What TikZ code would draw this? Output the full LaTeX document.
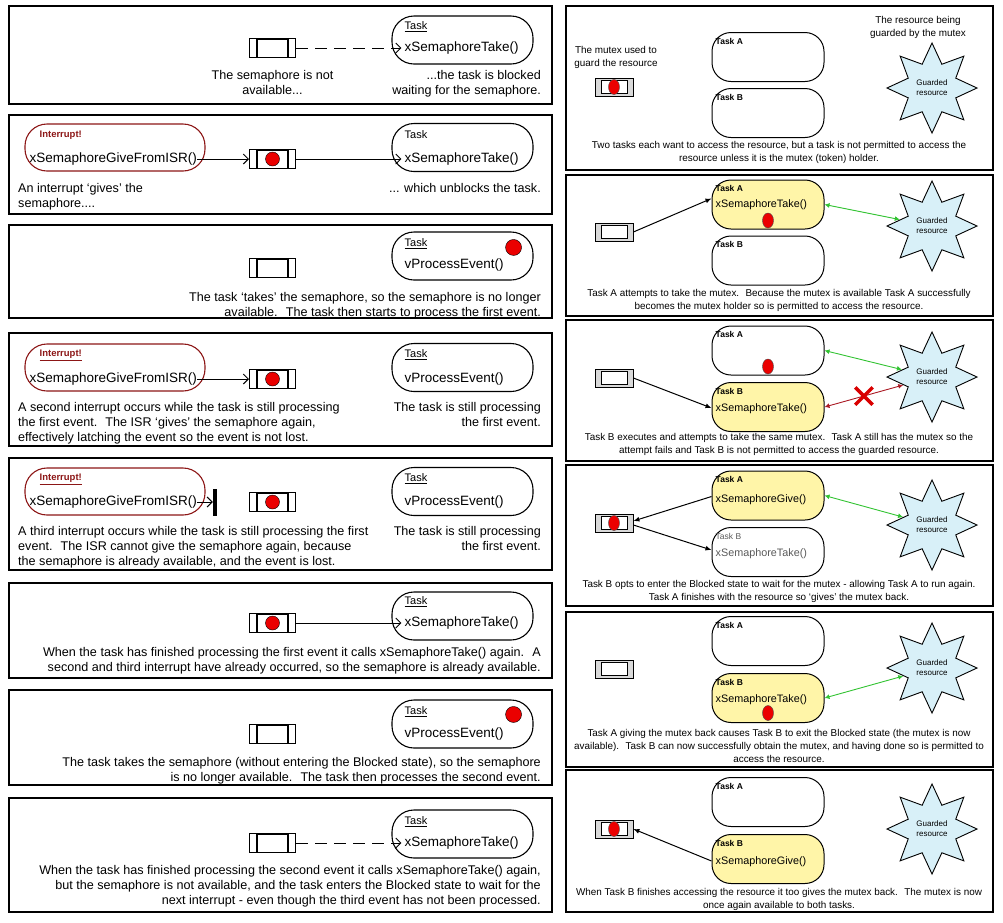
\documentclass[tikz,border=0pt]{standalone}
\usepackage{fontspec}
\setmainfont{Liberation Sans}
\usetikzlibrary{arrows.meta, positioning, calc, shapes.geometric, shapes.misc}

\definecolor{isrred}{RGB}{140, 22, 22}
\definecolor{runyellow}{RGB}{255, 245, 168}
\definecolor{resblue}{RGB}{216, 240, 248}
\definecolor{okgreen}{RGB}{50, 195, 50}
\definecolor{nogored}{RGB}{170, 25, 35}
\definecolor{tokenred}{RGB}{235, 0, 0}

\tikzset{
  panel/.style={draw, line width=1.3pt},
  % left column: binary semaphore
  taskbox/.style={draw, line width=1.1pt, rounded corners=22pt, minimum width=141pt, minimum height=48pt},
  isrbox/.style={taskbox, draw=isrred, minimum width=180pt, minimum height=47pt},
  lbl/.style={font=\fontsize{12.6}{15}\selectfont, inner sep=0pt},
  callf/.style={font=\fontsize{13.5}{15}\selectfont, inner sep=0pt, anchor=west},
  tasktitle/.style={font=\fontsize{11}{13}\selectfont, inner sep=0pt, anchor=west},
  isrtitle/.style={font=\fontsize{9.5}{11}\selectfont\bfseries, text=isrred, inner sep=0pt, anchor=west},
  sem/.style={draw, line width=1pt, fill=white, minimum width=46pt, minimum height=19pt, inner sep=0pt,
    path picture={\draw[line width=2pt] ([xshift=7pt]path picture bounding box.south west) rectangle ([xshift=-8pt]path picture bounding box.north east);}},
  semdot/.style={circle, draw=black, fill=tokenred, minimum size=14pt, inner sep=0pt},
  lostbar/.style={fill=black, minimum width=4pt, minimum height=27pt, inner sep=0pt},
  giveline/.style={-{Straight Barb[length=5pt, width=10pt]}, line width=1pt},
  waitline/.style={giveline, dash pattern=on 12pt off 7pt},
  % right column: mutex
  mtask/.style={draw, line width=1pt, rounded corners=19pt, minimum width=112pt, minimum height=49pt},
  mtaskrun/.style={mtask, fill=runyellow},
  mtasktitle/.style={font=\fontsize{8.5}{10}\selectfont\bfseries, inner sep=0pt, anchor=north west},
  mcall/.style={font=\fontsize{10.8}{12}\selectfont, inner sep=0pt, anchor=west},
  mtxtext/.style={font=\fontsize{9.9}{13.5}\selectfont, inner sep=0pt, align=center, anchor=north},
  mutex/.style={draw, line width=0.8pt, fill=gray!30, minimum width=38pt, minimum height=18pt, inner sep=0pt,
    path picture={\draw[fill=white, line width=0.9pt] ([xshift=6pt,yshift=2.5pt]path picture bounding box.south west) rectangle ([xshift=-6pt,yshift=-2.5pt]path picture bounding box.north east);}},
  mdot/.style={ellipse, draw=black!70, fill=tokenred, minimum width=11pt, minimum height=15pt, inner sep=0pt},
  resource/.style={star, star points=8, star point ratio=1.75, minimum size=90pt, draw, line width=0.9pt, fill=resblue,
    font=\fontsize{8}{10}\selectfont, align=center, inner sep=0pt},
  access/.style={{Latex[length=5pt, width=5pt]}-{Latex[length=5pt, width=5pt]}, draw=okgreen, line width=0.9pt},
  denied/.style={access, draw=nogored},
  xmark/.style={cross out, draw=red!85!black, line width=3.4pt, minimum size=14pt, inner sep=0pt},
  takeline/.style={-{Latex[length=6pt, width=5pt]}, line width=1pt},
}

\begin{document}
\begin{tikzpicture}[x=1pt, y=-1pt]
  \useasboundingbox (0,0) rectangle (1003,922);

  % ---------------- left column ----------------
  \draw[panel] (9,6) rectangle (552,104);
  \draw[panel] (9,115) rectangle (552,214);
  \draw[panel] (9,225) rectangle (552,318);
  \draw[panel] (9,333) rectangle (552,446);
  \draw[panel] (9,458) rectangle (552,570);
  \draw[panel] (9,583) rectangle (552,678);
  \draw[panel] (9,690) rectangle (552,785);
  \draw[panel] (9,798) rectangle (552,912);

  % semaphore not available, task blocked
  \node[taskbox] (t1) at (462.5, 40) {};
  \node[tasktitle] (t1h) at ([xshift=13pt, yshift=-11pt]t1.north west) {\underline{Task}};
  \node[callf] (t1f) at ([xshift=13pt, yshift=-8pt]t1.west) {xSemaphoreTake()};
  \node[sem] (s1) at (272.5, 48) {};
  \draw[waitline] (s1.east) -- ([xshift=-3pt]t1f.west);
  \node[lbl, align=center, anchor=north] (n1a) at (272.5, 70) {The semaphore is not\\available...};
  \node[lbl, align=right, anchor=north east] (n1b) at (541, 70) {...the task is blocked\\waiting for the semaphore.};

  % interrupt gives the semaphore
  \node[isrbox] (i2) at (115, 147.5) {};
  \node[isrtitle] (i2h) at ([xshift=15pt, yshift=-12pt]i2.north west) {Interrupt!};
  \node[callf] (i2f) at ([xshift=5pt, yshift=-11.5pt]i2.west) {xSemaphoreGiveFromISR()};
  \node[sem] (s2) at (272.5, 159) {};
  \node[semdot] (d2) at (s2) {};
  \node[taskbox] (t2) at (462.5, 147.5) {};
  \node[tasktitle] (t2h) at ([xshift=13pt, yshift=-12pt]t2.north west) {Task};
  \node[callf] (t2f) at ([xshift=13pt, yshift=-11.5pt]t2.west) {xSemaphoreTake()};
  \draw[giveline] (i2f.east) -- (s2.west);
  \draw[giveline] (s2.east) -- ([xshift=-3pt]t2f.west);
  \node[lbl, align=left, anchor=north west] (n2a) at (18, 183) {An interrupt ‘gives’ the\\semaphore....};
  \node[lbl, align=right, anchor=north east] (n2b) at (541, 183) {... which unblocks the task.};

  % task takes the semaphore
  \node[taskbox] (t3) at (462.5, 256) {};
  \node[tasktitle] (t3h) at ([xshift=13pt, yshift=-12pt]t3.north west) {\underline{Task}};
  \node[callf] (t3f) at ([xshift=13pt, yshift=-9pt]t3.west) {vProcessEvent()};
  \node[semdot, minimum size=16pt] (d3) at ([xshift=-20pt, yshift=-16pt]t3.north east) {};
  \node[sem] (s3) at (272.5, 268) {};
  \node[lbl, align=right, anchor=north east] (n3) at (541, 292) {The task ‘takes’ the semaphore, so the semaphore is no longer\\available.~ The task then starts to process the first event.};

  % second interrupt latched
  \node[isrbox] (i4) at (115, 367.5) {};
  \node[isrtitle] (i4h) at ([xshift=15pt, yshift=-12pt]i4.north west) {\underline{Interrupt!}};
  \node[callf] (i4f) at ([xshift=5pt, yshift=-11.5pt]i4.west) {xSemaphoreGiveFromISR()};
  \node[sem] (s4) at (272.5, 379) {};
  \node[semdot] (d4) at (s4) {};
  \node[taskbox] (t4) at (462.5, 367.5) {};
  \node[tasktitle] (t4h) at ([xshift=13pt, yshift=-12pt]t4.north west) {\underline{Task}};
  \node[callf] (t4f) at ([xshift=13pt, yshift=-11.5pt]t4.west) {vProcessEvent()};
  \draw[giveline] (i4f.east) -- (s4.west);
  \node[lbl, align=left, anchor=north west] (n4a) at (18, 402) {A second interrupt occurs while the task is still processing\\the first event.~ The ISR ‘gives’ the semaphore again,\\effectively latching the event so the event is not lost.};
  \node[lbl, align=right, anchor=north east] (n4b) at (541, 402) {The task is still processing\\the first event.};

  % third interrupt lost
  \node[isrbox] (i5) at (115, 491.5) {};
  \node[isrtitle] (i5h) at ([xshift=15pt, yshift=-12pt]i5.north west) {\underline{Interrupt!}};
  \node[callf] (i5f) at ([xshift=5pt, yshift=-10.5pt]i5.west) {xSemaphoreGiveFromISR()};
  \node[lostbar] (b5) at (215, 502) {};
  \node[sem] (s5) at (272.5, 502) {};
  \node[semdot] (d5) at (s5) {};
  \node[taskbox] (t5) at (462.5, 491.5) {};
  \node[tasktitle] (t5h) at ([xshift=13pt, yshift=-12pt]t5.north west) {\underline{Task}};
  \node[callf] (t5f) at ([xshift=13pt, yshift=-10.5pt]t5.west) {vProcessEvent()};
  \draw[giveline] (i5f.east) -- (b5.west);
  \node[lbl, align=left, anchor=north west] (n5a) at (18, 526) {A third interrupt occurs while the task is still processing the first\\event.~ The ISR cannot give the semaphore again, because\\the semaphore is already available, and the event is lost.};
  \node[lbl, align=right, anchor=north east] (n5b) at (541, 526) {The task is still processing\\the first event.};

  % task takes again, semaphore available
  \node[taskbox] (t6) at (462.5, 616) {};
  \node[tasktitle] (t6h) at ([xshift=13pt, yshift=-10pt]t6.north west) {\underline{Task}};
  \node[callf] (t6f) at ([xshift=13pt, yshift=-7pt]t6.west) {xSemaphoreTake()};
  \node[sem] (s6) at (272.5, 623) {};
  \node[semdot] (d6) at (s6) {};
  \draw[giveline] (s6.east) -- ([xshift=-3pt]t6f.west);
  \node[lbl, align=right, anchor=north east] (n6) at (541, 647) {When the task has finished processing the first event it calls xSemaphoreTake() again.~ A\\second and third interrupt have already occurred, so the semaphore is already available.};

  % second event processed
  \node[taskbox] (t7) at (462.5, 724) {};
  \node[tasktitle] (t7h) at ([xshift=13pt, yshift=-12pt]t7.north west) {\underline{Task}};
  \node[callf] (t7f) at ([xshift=13pt, yshift=-10pt]t7.west) {vProcessEvent()};
  \node[semdot, minimum size=16pt] (d7) at ([xshift=-20pt, yshift=-15pt]t7.north east) {};
  \node[sem] (s7) at (272.5, 734) {};
  \node[lbl, align=right, anchor=north east] (n7) at (541, 757) {The task takes the semaphore (without entering the Blocked state), so the semaphore\\is no longer available.~ The task then processes the second event.};

  % blocked again, third event never processed
  \node[taskbox] (t8) at (462.5, 834) {};
  \node[tasktitle] (t8h) at ([xshift=13pt, yshift=-12pt]t8.north west) {\underline{Task}};
  \node[callf] (t8f) at ([xshift=13pt, yshift=-9pt]t8.west) {xSemaphoreTake()};
  \node[sem] (s8) at (272.5, 843) {};
  \draw[waitline] (s8.east) -- ([xshift=-3pt]t8f.west);
  \node[lbl, align=right, anchor=north east] (n8) at (541, 865) {When the task has finished processing the second event it calls xSemaphoreTake() again,\\but the semaphore is not available, and the task enters the Blocked state to wait for the\\next interrupt - even though the third event has not been processed.};

  % ---------------- right column ----------------
  \draw[panel] (566,6) rectangle (993,170);
  \draw[panel] (566,175) rectangle (993,316);
  \draw[panel] (566,320) rectangle (993,461);
  \draw[panel] (566,465) rectangle (993,606);
  \draw[panel] (566,612) rectangle (993,767);
  \draw[panel] (566,770) rectangle (993,912);

  % two tasks, one mutex
  \node[mtask] (ta1) at (768, 57) {};
  \node[mtasktitle] (ta1h) at ([xshift=4pt, yshift=-6pt]ta1.north west) {Task A};
  \node[mtask] (tb1) at (768, 113) {};
  \node[mtasktitle] (tb1h) at ([xshift=4pt, yshift=-6pt]tb1.north west) {Task B};
  \node[resource] (st1) at (932, 88) {Guarded\\resource};
  \node[mtxtext] (r1a) at (918, 16) {The resource being\\guarded by the mutex};
  \node[mtxtext] (r1b) at (616, 46) {The mutex used to\\guard the resource};
  \node[mutex] (m1) at (614, 87) {};
  \node[mdot] (m1d) at (m1) {};
  \node[mtxtext] (r1c) at (779, 141) {Two tasks each want to access the resource, but a task is not permitted to access the\\resource unless it is the mutex (token) holder.};

  % task A takes the mutex
  \node[mtaskrun] (ta2) at (768, 204.5) {};
  \node[mtasktitle] (ta2h) at ([xshift=4pt, yshift=-6pt]ta2.north west) {Task A};
  \node[mcall] (ta2f) at ([xshift=4pt]ta2.west) {xSemaphoreTake()};
  \node[mdot] (ta2d) at ([yshift=9pt]ta2.south) {};
  \node[mtask] (tb2) at (768, 260.5) {};
  \node[mtasktitle] (tb2h) at ([xshift=4pt, yshift=-6pt]tb2.north west) {Task B};
  \node[resource] (st2) at (932, 226) {Guarded\\resource};
  \node[mutex] (m2) at (614, 232) {};
  \draw[takeline] (m2.east) -- ([yshift=6pt]ta2.west);
  \draw[access] (ta2.east) -- (st2);
  \node[mtxtext] (r2) at (779, 289) {Task A attempts to take the mutex.~ Because the mutex is available Task A successfully\\becomes the mutex holder so is permitted to access the resource.};

  % task B fails to take the mutex
  \node[mtask] (ta3) at (768, 350.5) {};
  \node[mtasktitle] (ta3h) at ([xshift=4pt, yshift=-6pt]ta3.north west) {Task A};
  \node[mdot] (ta3d) at ([yshift=9pt]ta3.south) {};
  \node[mtaskrun] (tb3) at (768, 407) {};
  \node[mtasktitle] (tb3h) at ([xshift=4pt, yshift=-6pt]tb3.north west) {Task B};
  \node[mcall] (tb3f) at ([xshift=4pt, yshift=-2pt]tb3.west) {xSemaphoreTake()};
  \node[resource] (st3) at (932, 377) {Guarded\\resource};
  \node[mutex] (m3) at (614, 378) {};
  \draw[takeline] (m3.east) -- ([yshift=-1pt]tb3.west);
  \draw[access] (ta3.east) -- (st3);
  \draw[denied] (tb3.east) -- node[xmark] (x3) {} (st3);
  \node[mtxtext] (r3) at (779, 433) {Task B executes and attempts to take the same mutex.~ Task A still has the mutex so the\\attempt fails and Task B is not permitted to access the guarded resource.};

  % task B blocks, task A gives the mutex back
  \node[mtaskrun] (ta4) at (768, 495.5) {};
  \node[mtasktitle] (ta4h) at ([xshift=4pt, yshift=-6pt]ta4.north west) {Task A};
  \node[mcall] (ta4f) at ([xshift=4pt, yshift=-4pt]ta4.west) {xSemaphoreGive()};
  \node[mtask] (tb4) at (768, 552) {};
  \node[mtasktitle, font=\fontsize{8.5}{10}\selectfont, text=black!65] (tb4h) at ([xshift=4pt, yshift=-6pt]tb4.north west) {Task B};
  \node[mcall, text=black!65] (tb4f) at ([xshift=4pt, yshift=-2pt]tb4.west) {xSemaphoreTake()};
  \node[resource] (st4) at (932, 525) {Guarded\\resource};
  \node[mutex] (m4) at (614, 523) {};
  \node[mdot] (m4d) at (m4) {};
  \draw[takeline] ([yshift=-1pt]ta4.west) -- ([yshift=2pt]m4.east);
  \draw[takeline] ([yshift=-2pt]m4.east) -- ([yshift=2pt]tb4.west);
  \draw[access] (ta4.east) -- (st4);
  \node[mtxtext] (r4) at (779, 580) {Task B opts to enter the Blocked state to wait for the mutex - allowing Task A to run again.\\Task A finishes with the resource so ‘gives’ the mutex back.};

  % task B obtains the mutex
  \node[mtask] (ta5) at (768, 641) {};
  \node[mtasktitle] (ta5h) at ([xshift=4pt, yshift=-6pt]ta5.north west) {Task A};
  \node[mtaskrun] (tb5) at (768, 698) {};
  \node[mtasktitle] (tb5h) at ([xshift=4pt, yshift=-6pt]tb5.north west) {Task B};
  \node[mcall] (tb5f) at ([xshift=4pt, yshift=-2pt]tb5.west) {xSemaphoreTake()};
  \node[mdot] (tb5d) at ([yshift=10pt]tb5.south) {};
  \node[resource] (st5) at (932, 668) {Guarded\\resource};
  \node[mutex] (m5) at (614, 669) {};
  \draw[access] (tb5.east) -- (st5);
  \node[mtxtext, font=\fontsize{9.9}{13}\selectfont] (r5) at (779, 729) {Task A giving the mutex back causes Task B to exit the Blocked state (the mutex is now\\available).~ Task B can now successfully obtain the mutex, and having done so is permitted to\\access the resource.};

  % task B gives the mutex back
  \node[mtask] (ta6) at (768, 802) {};
  \node[mtasktitle] (ta6h) at ([xshift=4pt, yshift=-6pt]ta6.north west) {Task A};
  \node[mtaskrun] (tb6) at (768, 859) {};
  \node[mtasktitle] (tb6h) at ([xshift=4pt, yshift=-6pt]tb6.north west) {Task B};
  \node[mcall] (tb6f) at ([xshift=4pt, yshift=-3pt]tb6.west) {xSemaphoreGive()};
  \node[resource] (st6) at (932, 829) {Guarded\\resource};
  \node[mutex] (m6) at (614, 829) {};
  \node[mdot] (m6d) at (m6) {};
  \draw[takeline] ([yshift=-2pt]tb6.west) -- (m6.east);
  \node[mtxtext] (r6) at (779, 888) {When Task B finishes accessing the resource it too gives the mutex back.~ The mutex is now\\once again available to both tasks.};
\end{tikzpicture}
\end{document}
